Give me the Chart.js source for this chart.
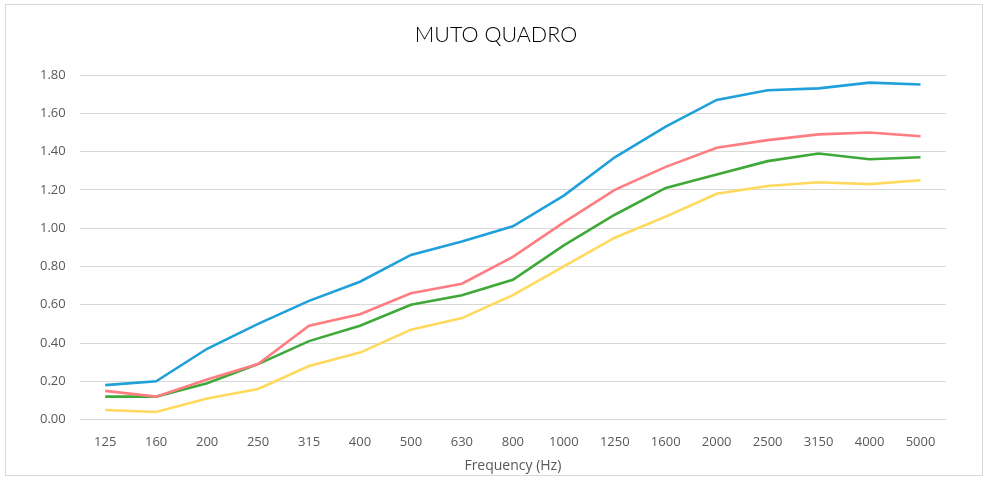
<!DOCTYPE html>
<html>
<head>
<meta charset="utf-8">
<script src="https://cdn.jsdelivr.net/npm/chart.js@4/dist/chart.umd.min.js"></script>
<style>
  html, body { margin: 0; padding: 0; background: #fff; }
  #box { position: absolute; left: 5px; top: 4px; width: 976px; height: 470px; border: 1px solid #d9d9d9; }
  canvas { display: block; }
</style>
</head>
<body>
<div id="box"><canvas id="c" width="976" height="470"></canvas></div>
<script>
const chartTitle = 'MUTO QUADRO';
const categories = ["125","160","200","250","315","400","500","630","800","1000","1250","1600","2000","2500","3150","4000","5000"];
const blueSeries   = [0.18,0.20,0.37,0.50,0.62,0.72,0.86,0.93,1.01,1.17,1.37,1.53,1.67,1.72,1.73,1.76,1.75];
const redSeries    = [0.15,0.12,0.21,0.29,0.49,0.55,0.66,0.71,0.85,1.03,1.20,1.32,1.42,1.46,1.49,1.50,1.48];
const greenSeries  = [0.12,0.12,0.19,0.29,0.41,0.49,0.60,0.65,0.73,0.91,1.07,1.21,1.28,1.35,1.39,1.36,1.37];
const yellowSeries = [0.05,0.04,0.11,0.16,0.28,0.35,0.47,0.53,0.65,0.80,0.95,1.06,1.18,1.22,1.24,1.23,1.25];
const yTicks = [0,0.2,0.4,0.6,0.8,1.0,1.2,1.4,1.6,1.8];

function ds(label, data, color) {
  return { label, data, borderColor: color, backgroundColor: color, borderWidth: 2.6, pointRadius: 0, tension: 0, fill: false };
}

const centeredTitle = {
  id: 'centeredTitle',
  afterDraw(chart) {
    const ctx = chart.ctx;
    ctx.save();
    ctx.font = '300 21.5px Lato';
    ctx.fillStyle = '#000';
    ctx.textAlign = 'center';
    ctx.textBaseline = 'middle';
    ctx.fillText(chartTitle, chart.width / 2 + 2, 30);
    ctx.restore();
  }
};

new Chart(document.getElementById('c'), {
  type: 'line',
  data: {
    labels: categories,
    datasets: [
      ds('A', blueSeries, '#1fa0db'),
      ds('B', redSeries, '#ff7c80'),
      ds('C', greenSeries, '#3ea938'),
      ds('D', yellowSeries, '#ffd95c')
    ]
  },
  plugins: [centeredTitle],
  options: {
    responsive: false,
    animation: false,
    layout: { padding: { left: 20, right: 36, top: 70, bottom: 1 } },
    plugins: {
      legend: { display: false },
      tooltip: { enabled: false },
      title: { display: false }
    },
    scales: {
      x: {
        offset: true,
        grid: { display: false, drawTicks: false },
        border: { display: false },
        ticks: { color: '#595959', font: { family: 'Open Sans', size: 13 }, padding: 15, maxRotation: 0 },
        title: { display: true, text: 'Frequency (Hz)', color: '#595959', font: { family: 'Open Sans', size: 14 }, padding: { top: -8, bottom: 0 } }
      },
      y: {
        min: 0, max: 1.8,
        afterBuildTicks: (axis) => { axis.ticks = yTicks.map(v => ({ value: v })); },
        grid: { color: '#d9d9d9', lineWidth: 1, drawTicks: false },
        border: { display: false },
        ticks: { color: '#595959', font: { family: 'Open Sans', size: 13 }, padding: 14, callback: (v) => Number(v).toFixed(2) }
      }
    }
  }
});
</script>
</body>
</html>
